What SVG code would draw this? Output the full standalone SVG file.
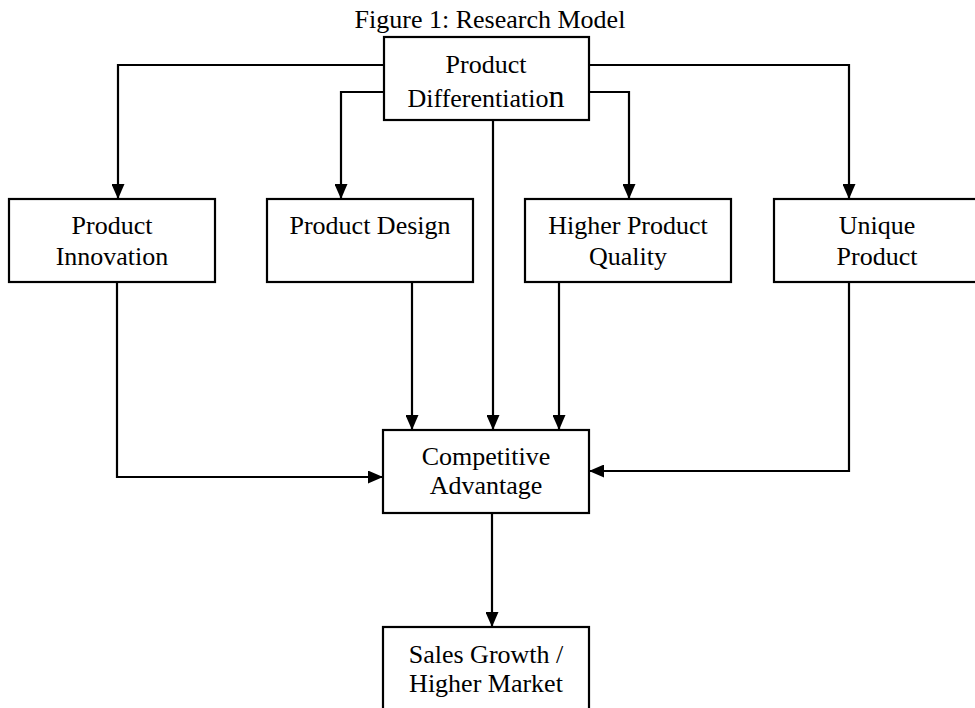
<svg xmlns="http://www.w3.org/2000/svg" width="975" height="708" viewBox="0 0 975 708">
<defs>
<style>
text { font-family: "Liberation Serif", "Times New Roman", serif; font-size: 26px; fill: #000; text-anchor: middle; }
.box { fill: #fff; stroke: #000; stroke-width: 2.2; }
.conn { fill: none; stroke: #000; stroke-width: 2.2; }
</style>
<marker id="arr" viewBox="0 0 15 13" refX="15" refY="6.5" markerWidth="15" markerHeight="13" markerUnits="userSpaceOnUse" orient="auto">
<path d="M0,0 L15,6.5 L0,13 Z" fill="#000"/>
</marker>
</defs>
<rect width="975" height="708" fill="#fff"/>
<text x="490" y="28">Figure 1: Research Model</text>
<g id="connectors">
<path class="conn" d="M384,65 H118 V199" marker-end="url(#arr)"/>
<path class="conn" d="M384,92 H341 V199" marker-end="url(#arr)"/>
<path class="conn" d="M589,92 H629 V199" marker-end="url(#arr)"/>
<path class="conn" d="M589,65 H849 V199" marker-end="url(#arr)"/>
<path class="conn" d="M493,120 V430" marker-end="url(#arr)"/>
<path class="conn" d="M117,282 V477 H383" marker-end="url(#arr)"/>
<path class="conn" d="M412,282 V430" marker-end="url(#arr)"/>
<path class="conn" d="M559,282 V430" marker-end="url(#arr)"/>
<path class="conn" d="M849,282 V471 H589" marker-end="url(#arr)"/>
<path class="conn" d="M492,513 V627" marker-end="url(#arr)"/>
</g>
<g id="product-differentiation">
<rect class="box" x="384" y="37" width="205" height="83"/>
<text x="486" y="73">Product</text>
<text x="486" y="107">Differentiatio<tspan font-size="32">n</tspan></text>
</g>
<g id="product-innovation">
<rect class="box" x="9" y="199" width="206" height="83"/>
<text x="112" y="234">Product</text>
<text x="112" y="265">Innovation</text>
</g>
<g id="product-design">
<rect class="box" x="267" y="199" width="206" height="83"/>
<text x="370" y="234">Product Design</text>
</g>
<g id="higher-product-quality">
<rect class="box" x="525" y="199" width="206" height="83"/>
<text x="628" y="234">Higher Product</text>
<text x="628" y="265">Quality</text>
</g>
<g id="unique-product">
<rect class="box" x="774" y="199" width="206" height="83"/>
<text x="877" y="234">Unique</text>
<text x="877" y="265">Product</text>
</g>
<g id="competitive-advantage">
<rect class="box" x="383" y="430" width="206" height="83"/>
<text x="486" y="465">Competitive</text>
<text x="486" y="494">Advantage</text>
</g>
<g id="sales-growth">
<rect class="box" x="383" y="627" width="206" height="90"/>
<text x="486" y="663">Sales Growth /</text>
<text x="486" y="692">Higher Market</text>
</g>
</svg>
